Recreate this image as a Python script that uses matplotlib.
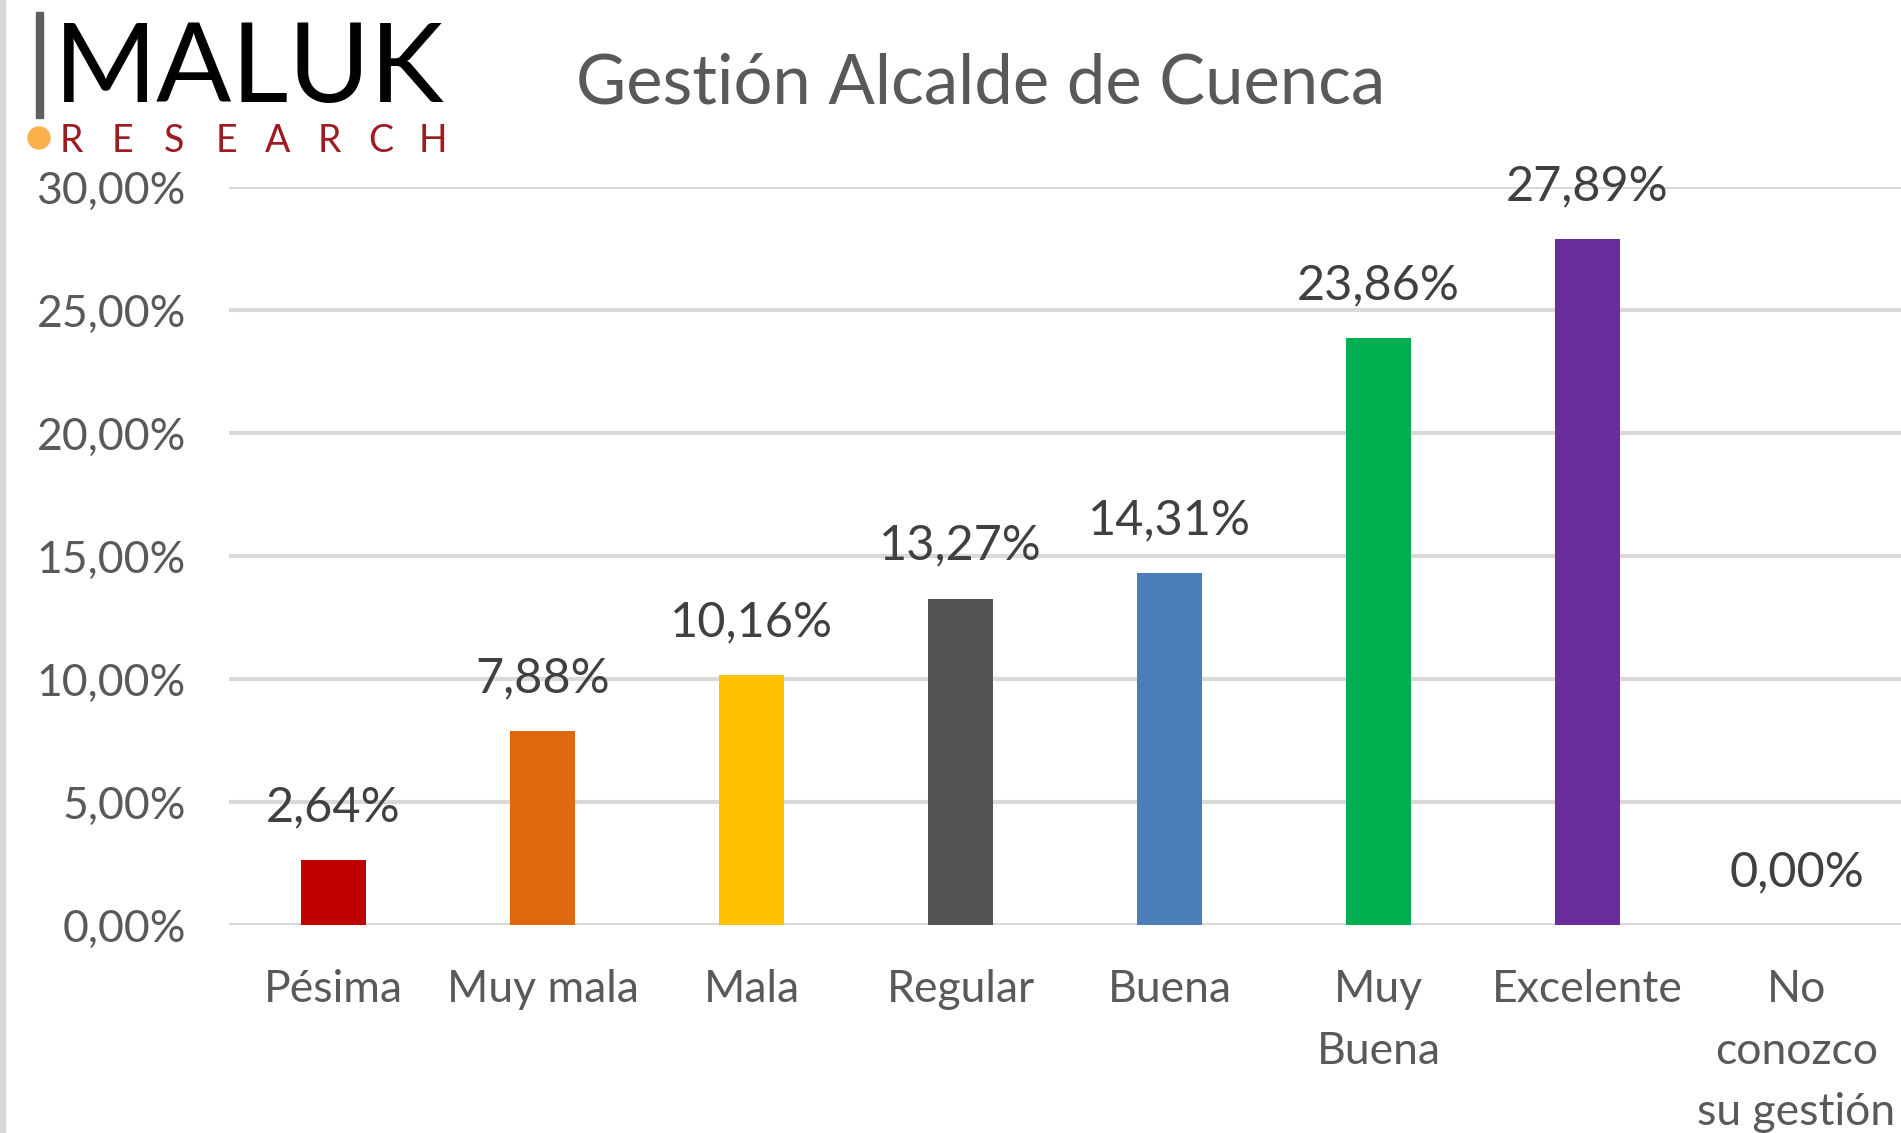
import matplotlib
matplotlib.use("Agg")
import matplotlib.pyplot as plt
from matplotlib.patches import Rectangle, Circle
from matplotlib.ticker import FuncFormatter

plt.rcParams['font.family'] = ['Lato', 'DejaVu Sans']

# datos de la encuesta
categorias = ["Pésima", "Muy mala", "Mala", "Regular", "Buena",
              "Muy\nBuena", "Excelente", "No\nconozco\nsu gestión"]
porcentajes = [2.64, 7.88, 10.16, 13.27, 14.31, 23.86, 27.89, 0.00]
colores = ["#C00000", "#E0690E", "#FFC000", "#545454", "#4B7DB8",
           "#00B050", "#6B2D9E", "#FFFFFF"]
titulo = "Gestión Alcalde de Cuenca"

gris_texto = "#595959"

def pct(v):
    return "{:.2f}%".format(v).replace(".", ",")

W, H = 1901, 1133
fig = plt.figure(figsize=(W / 100, H / 100), dpi=100)

ax = fig.add_axes([229 / W, 1 - 925 / H, 1 - 229 / W, (925 - 187) / H])
x = range(len(categorias))
bars = ax.bar(x, porcentajes, width=0.31, color=colores, zorder=3)

ax.set_xlim(-0.5, len(categorias) - 0.5)
ax.set_ylim(0, 30)
ax.set_yticks(range(0, 31, 5))
ax.yaxis.set_major_formatter(FuncFormatter(lambda v, p: pct(v)))
ax.set_xticks(list(x))
ax.set_xticklabels(categorias, linespacing=1.62)
ax.yaxis.grid(True, color="#D9D9D9", linewidth=3, zorder=0)
ax.set_axisbelow(True)
for s in ax.spines.values():
    s.set_visible(False)
ax.tick_params(axis="both", length=0, colors=gris_texto)
ax.tick_params(axis="y", pad=31, labelsize=32)
ax.tick_params(axis="x", pad=32, labelsize=32)
for t in ax.get_xticklabels():
    t.set_verticalalignment("top")

# etiquetas de datos
for b, v in zip(bars, porcentajes):
    ax.annotate(pct(v), (b.get_x() + b.get_width() / 2, v),
                xytext=(0, 28), textcoords="offset points",
                ha="center", va="baseline", fontsize=35, color="#404040")

fig.text(576 / W, 1 - 103 / H, titulo, fontsize=49.5, color=gris_texto,
         ha="left", va="baseline")

# logo y borde (coordenadas en pixeles)
deco = fig.add_axes([0, 0, 1, 1], zorder=-1)
deco.set_xlim(0, W)
deco.set_ylim(H, 0)
deco.axis("off")
deco.add_patch(Rectangle((0, 0), 5, H, color="#D9D9D9"))
deco.add_patch(Rectangle((36, 12), 7, 106, color="#5F5F5F"))
deco.add_patch(Circle((39, 138), 11, color="#FBB04C"))
deco.text(54, 102, "MALUK", fontsize=80, color="black",
          ha="left", va="baseline")
for i, letra in enumerate("RESEARCH"):
    deco.text(71 + i * 51.7, 152, letra, fontsize=27, color="#9E1B20",
              ha="center", va="baseline")

fig.savefig("out.png", dpi=100)
